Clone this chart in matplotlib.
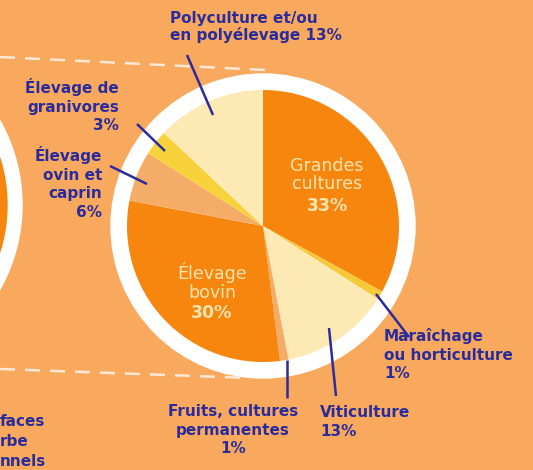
import matplotlib
matplotlib.use("Agg")
import matplotlib.pyplot as plt
from matplotlib.patches import Circle

# slices, clockwise from 12 o'clock
labels = ["Grandes cultures", "Maraîchage ou horticulture", "Viticulture",
          "Fruits, cultures permanentes", "Élevage bovin",
          "Élevage ovin et caprin", "Élevage de granivores",
          "Polyculture et/ou en polyélevage"]
shares = [33, 1, 13, 1, 30, 6, 3, 13]
slice_colors = ["#F7860F", "#F6C83A", "#FCE9B4", "#F4AC66",
                "#F7860F", "#F4AC66", "#F8D23B", "#FCE9B4"]

BG = "#F8A95D"
INK = "#2B2C9B"
CREAM = "#FCE4AC"

W, H = 533, 470
fig = plt.figure(figsize=(W / 100, H / 100), dpi=100, facecolor=BG)
ax = fig.add_axes([0, 0, 1, 1])
ax.set_facecolor(BG)


def Y(y):
    # image rows -> data y
    return H - y


cx, cy = 263, Y(226)
r_pie = 136

# neighbouring pie, cut by the left edge
ax.add_patch(Circle((-150, Y(205)), 172, color="white", zorder=1))
ax.add_patch(Circle((-150, Y(205)), 157, color="#F7860F", zorder=2))

# dashed connectors
ax.plot([0, 265], [Y(57), Y(70)], ls=(0, (6, 4)), color="white", lw=1.8,
        alpha=0.75, zorder=0.5)
ax.plot([0, 250], [Y(369), Y(378)], ls=(0, (6, 4)), color="white", lw=1.8,
        alpha=0.75, zorder=0.5)

ax.add_patch(Circle((cx, cy), 152, color="white", zorder=3))
wedges, _ = ax.pie(shares, colors=slice_colors, startangle=90,
                   counterclock=False, center=(cx, cy), radius=r_pie,
                   wedgeprops=dict(linewidth=0, zorder=4))
for w in wedges:
    w.set_zorder(4)

ax.set_xlim(0, W)
ax.set_ylim(0, H)
ax.set_aspect("equal")
ax.axis("off")

fam = "DejaVu Sans"
fs = 11
fin = 12.5
ls = 1.3

# labels inside the pie
ax.text(327, Y(175), "Grandes\ncultures", ha="center", va="center", color=CREAM,
        fontsize=fin, family=fam, linespacing=1.05, zorder=6)
ax.text(327, Y(206), "33%", ha="center", va="center", color=CREAM,
        fontsize=fin, family=fam, weight="bold", zorder=6)
ax.text(212, Y(282), "Élevage\nbovin", ha="center", va="center", color=CREAM,
        fontsize=fin, family=fam, linespacing=1.05, zorder=6)
ax.text(212, Y(313), "30%", ha="center", va="center", color=CREAM,
        fontsize=fin, family=fam, weight="bold", zorder=6)

# outside labels
ax.text(170, Y(11), "Polyculture et/ou\nen polyélevage 13%", ha="left", va="top",
        color=INK, fontsize=fs, family=fam, weight="bold", linespacing=1.1)
ax.text(119, Y(78), "Élevage de\ngranivores\n3%", ha="right", va="top",
        color=INK, fontsize=fs, family=fam, weight="bold", linespacing=ls)
ax.text(102, Y(146), "Élevage\novin et\ncaprin\n6%", ha="right", va="top",
        color=INK, fontsize=fs, family=fam, weight="bold", linespacing=ls)
ax.text(384, Y(328), "Maraîchage\nou horticulture\n1%", ha="left", va="top",
        color=INK, fontsize=fs, family=fam, weight="bold", linespacing=ls)
ax.text(233, Y(404), "Fruits, cultures\npermanentes\n1%", ha="center", va="top",
        color=INK, fontsize=fs, family=fam, weight="bold", linespacing=ls)
ax.text(320, Y(405), "Viticulture\n13%", ha="left", va="top",
        color=INK, fontsize=fs, family=fam, weight="bold", linespacing=ls)

# cropped text of the neighbouring block
ax.text(0, Y(414), "faces\nrbe\nnnels", ha="left", va="top", color=INK,
        fontsize=fs, family=fam, weight="bold", linespacing=1.4)

# leader lines
leaders = [((187, 55), (213, 115)), ((137, 124), (165, 151)),
           ((110, 166), (147, 184)), ((376, 294), (409, 337)),
           ((287, 360), (287, 398)), ((329, 328), (336, 396))]
for (x0, y0), (x1, y1) in leaders:
    ax.plot([x0, x1], [Y(y0), Y(y1)], color=INK, lw=1.8, zorder=7,
            solid_capstyle="butt")

fig.savefig("out.png", dpi=100, facecolor=BG)
